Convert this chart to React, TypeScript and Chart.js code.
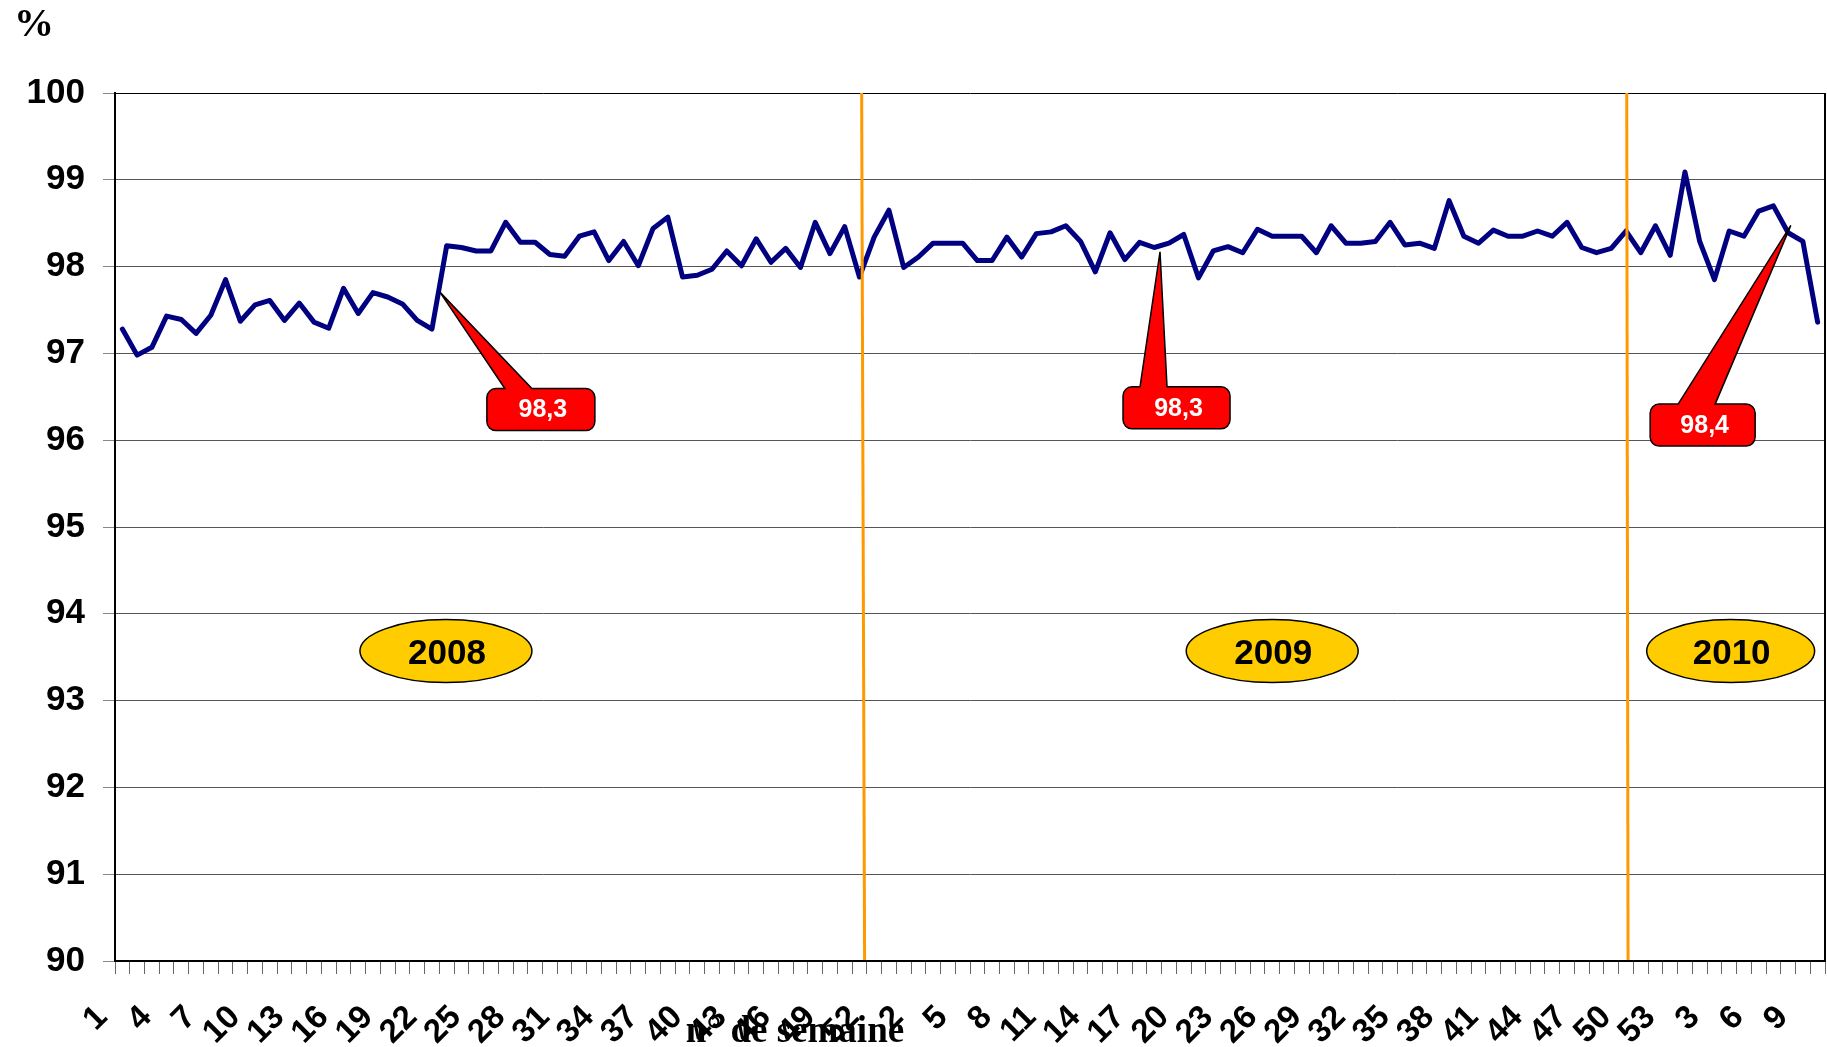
import { useEffect, useRef } from 'react';
import { Chart, registerables } from 'chart.js';

Chart.register(...registerables);

// ---- Data ----
const weeks2008 = ['1','2','3','4','5','6','7','8','9','10','11','12','13','14','15','16','17','18','19','20','21','22','23','24','25','26','27','28','29','30','31','32','33','34','35','36','37','38','39','40','41','42','43','44','45','46','47','48','49','50','51','52','53'];
const weeks2009 = ['1','2','3','4','5','6','7','8','9','10','11','12','13','14','15','16','17','18','19','20','21','22','23','24','25','26','27','28','29','30','31','32','33','34','35','36','37','38','39','40','41','42','43','44','45','46','47','48','49','50','51','52','53'];
const weeks2010 = ['1','2','3','4','5','6','7','8','9','10'];

const rate2008 = [
  97.28, 96.98, 97.07, 97.43, 97.39, 97.23, 97.44, 97.85, 97.37, 97.56,
  97.61, 97.38, 97.58, 97.36, 97.29, 97.75, 97.46, 97.70, 97.65, 97.57,
  97.38, 97.28, 98.24, 98.22, 98.18, 98.18, 98.51, 98.28, 98.28, 98.14,
  98.12, 98.35, 98.40, 98.07, 98.29, 98.01, 98.44, 98.57, 97.88, 97.90,
  97.97, 98.18, 98.01, 98.32, 98.05, 98.21, 97.99, 98.51, 98.15, 98.46,
  97.88, 98.34, 98.65,
];
const rate2009 = [
  97.99, 98.11, 98.27, 98.27, 98.27, 98.07, 98.07, 98.34, 98.11, 98.38,
  98.40, 98.47, 98.29, 97.94, 98.39, 98.08, 98.28, 98.22, 98.27, 98.37,
  97.87, 98.18, 98.23, 98.16, 98.43, 98.35, 98.35, 98.35, 98.16, 98.47,
  98.27, 98.27, 98.29, 98.51, 98.25, 98.27, 98.21, 98.76, 98.35, 98.27,
  98.42, 98.35, 98.35, 98.41, 98.35, 98.51, 98.22, 98.16, 98.21, 98.41,
  98.16, 98.47, 98.13,
];
const rate2010 = [99.09, 98.29, 97.85, 98.41, 98.35, 98.64, 98.70, 98.39, 98.29, 97.36];

const yearNames = ['2008', '2009', '2010'];
const calloutTexts = ['98,3', '98,3', '98,4'];
const yAxisUnit = '%';
const xAxisTitle = 'n° de semaine';
const yMin = 90;
const yMax = 100;
const yStep = 1;
const labelEvery = 3;

const allWeeks = [...weeks2008, ...weeks2009, ...weeks2010];
const allRates = [...rate2008, ...rate2009, ...rate2010];

// ---- Annotation geometry (in category-index / value space) ----
const separatorGeom = [
  { top: 50.15, bottom: 50.35 },
  { top: 102.05, bottom: 102.14 },
];
const ellipseGeom = [
  { idx: 21.95, val: 93.57, rx: 86, ry: 31.5 },
  { idx: 78.0, val: 93.57, rx: 86, ry: 31.5 },
  { idx: 109.1, val: 93.57, rx: 84, ry: 31.5 },
];
const calloutGeom = [
  { idx: 28.39, val: 96.353, w: 108, h: 42, b0: 18, b1: 45, tipIdx: 21.54, tipVal: 97.706 },
  { idx: 71.51, val: 96.373, w: 107, h: 42, b0: 17, b1: 44, tipIdx: 70.39, tipVal: 98.171 },
  { idx: 107.2, val: 96.174, w: 105, h: 42, b0: 28, b1: 65, tipIdx: 113.18, tipVal: 98.475 },
];

const SANS = '"Liberation Sans", Arial, sans-serif';
const SERIF = '"Liberation Serif", "Times New Roman", serif';

function drawCallout(ctx: CanvasRenderingContext2D, cx: number, cy: number, w: number, h: number,
  b0: number, b1: number, ax: number, ay: number, text: string) {
  const r = 9;
  const left = cx - w / 2, top = cy - h / 2, right = cx + w / 2, bottom = cy + h / 2;
  ctx.save();
  ctx.beginPath();
  ctx.moveTo(left + r, top);
  ctx.lineTo(left + b0, top);
  ctx.lineTo(ax, ay);
  ctx.lineTo(left + b1, top);
  ctx.lineTo(right - r, top);
  ctx.arcTo(right, top, right, top + r, r);
  ctx.lineTo(right, bottom - r);
  ctx.arcTo(right, bottom, right - r, bottom, r);
  ctx.lineTo(left + r, bottom);
  ctx.arcTo(left, bottom, left, bottom - r, r);
  ctx.lineTo(left, top + r);
  ctx.arcTo(left, top, left + r, top, r);
  ctx.closePath();
  ctx.fillStyle = '#FF0000';
  ctx.fill();
  ctx.lineWidth = 1.5;
  ctx.strokeStyle = '#000';
  ctx.lineJoin = 'miter';
  ctx.stroke();
  ctx.fillStyle = '#FFFFFF';
  ctx.font = `bold 25px ${SANS}`;
  ctx.textAlign = 'center';
  ctx.textBaseline = 'middle';
  ctx.fillText(text, cx + 2, cy + 1);
  ctx.restore();
}

const annotationPlugin = {
  id: 'annotations',
  afterDatasetsDraw(chart: any) {
    const { ctx, chartArea, scales } = chart;
    const xs = scales.x, ys = scales.y;
    ctx.save();
    // frame right border
    ctx.strokeStyle = '#000';
    ctx.lineWidth = 2;
    ctx.beginPath();
    ctx.moveTo(chartArea.right, chartArea.top);
    ctx.lineTo(chartArea.right, chartArea.bottom);
    ctx.stroke();
    // year separators
    ctx.strokeStyle = '#FF9900';
    ctx.lineWidth = 3;
    separatorGeom.forEach((s) => {
      ctx.beginPath();
      ctx.moveTo(xs.getPixelForValue(s.top), chartArea.top);
      ctx.lineTo(xs.getPixelForValue(s.bottom), chartArea.bottom - 1);
      ctx.stroke();
    });
    // callouts
    calloutGeom.forEach((g, i) => {
      drawCallout(ctx, xs.getPixelForValue(g.idx), ys.getPixelForValue(g.val), g.w, g.h, g.b0, g.b1,
        xs.getPixelForValue(g.tipIdx), ys.getPixelForValue(g.tipVal), calloutTexts[i]);
    });
    // year ellipses
    ellipseGeom.forEach((g, i) => {
      const cx = xs.getPixelForValue(g.idx);
      const cy = ys.getPixelForValue(g.val);
      ctx.beginPath();
      ctx.ellipse(cx, cy, g.rx, g.ry, 0, 0, Math.PI * 2);
      ctx.fillStyle = '#FFCC00';
      ctx.fill();
      ctx.lineWidth = 1.5;
      ctx.strokeStyle = '#000';
      ctx.stroke();
      ctx.fillStyle = '#000';
      ctx.font = `bold 35px ${SANS}`;
      ctx.textAlign = 'center';
      ctx.textBaseline = 'middle';
      ctx.fillText(yearNames[i], cx + 1, cy + 3);
    });
    ctx.restore();
  },
  afterDraw(chart: any) {
    const { ctx } = chart;
    ctx.save();
    ctx.fillStyle = '#000';
    ctx.textBaseline = 'alphabetic';
    ctx.textAlign = 'left';
    ctx.font = `bold 40px ${SERIF}`;
    ctx.fillText(yAxisUnit, 14, 36);
    ctx.textAlign = 'center';
    ctx.font = `bold 37px ${SERIF}`;
    ctx.fillText(xAxisTitle, 795, 1042);
    ctx.restore();
  },
};

export default function App() {
  const canvasRef = useRef<HTMLCanvasElement | null>(null);

  useEffect(() => {
    document.body.style.margin = '0';
    const canvas = canvasRef.current;
    if (!canvas) return;
    const chart = new Chart(canvas, {
      type: 'line',
      data: {
        labels: allWeeks,
        datasets: [
          {
            data: allRates,
            borderColor: '#000080',
            borderWidth: 5,
            pointRadius: 0,
            tension: 0,
            fill: false,
            borderJoinStyle: 'round',
            borderCapStyle: 'round',
          },
        ],
      },
      options: {
        responsive: false,
        animation: false,
        devicePixelRatio: 1,
        layout: { padding: { top: 93, right: 2, left: 0, bottom: 0 } },
        plugins: { legend: { display: false }, tooltip: { enabled: false } },
        scales: {
          x: {
            type: 'category',
            offset: true,
            ticks: {
              autoSkip: false,
              maxRotation: 45,
              minRotation: 45,
              labelOffset: -20,
              padding: 24,
              color: '#000',
              font: { family: SANS, size: 33, weight: 'bold' },
              callback: (_v: any, i: number) => (i % labelEvery === 0 ? allWeeks[i] : ''),
            },
            grid: {
              offset: true,
              drawOnChartArea: false,
              drawTicks: true,
              tickLength: 13,
              tickColor: '#666',
              color: '#666',
              lineWidth: 1,
            },
            border: { display: true, color: '#000', width: 2 },
            afterFit: (s: any) => {
              s.height = 86;
              s.paddingLeft = 0;
              s.paddingRight = 0;
            },
          },
          y: {
            min: yMin,
            max: yMax,
            ticks: {
              stepSize: yStep,
              padding: 18,
              color: '#000',
              font: { family: SANS, size: 35, weight: 'bold' },
            },
            grid: {
              color: (c: any) => (c.tick && c.tick.value === yMax ? '#000' : '#555'),
              lineWidth: 1,
              drawTicks: true,
              tickLength: 12,
              tickColor: '#888',
            },
            border: { display: true, color: '#000', width: 2 },
            afterFit: (s: any) => {
              s.width = 115;
              s.paddingTop = 0;
              s.paddingBottom = 0;
            },
          },
        },
      },
      plugins: [annotationPlugin],
    } as any);
    return () => chart.destroy();
  }, []);

  return (
    <div style={{ position: 'absolute', left: 0, top: 0, width: 1827, height: 1047, background: '#fff' }}>
      <canvas ref={canvasRef} width={1827} height={1047} style={{ display: 'block', width: 1827, height: 1047 }} />
    </div>
  );
}
